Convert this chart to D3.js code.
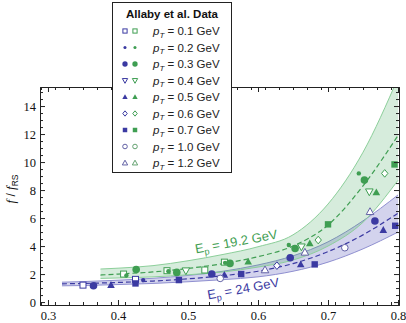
<!DOCTYPE html>
<html><head><meta charset="utf-8">
<script src="https://cdn.jsdelivr.net/npm/d3@7"></script>
<style>body{margin:0;background:#fff}svg{display:block}</style>
</head><body><svg id="c" width="406" height="323"></svg>
<script>
// ---- data ----
const xTicks = [0.3, 0.4, 0.5, 0.6, 0.7, 0.8];
const yTicks = [0, 2, 4, 6, 8, 10, 12, 14];
const legendLabels = ["0.1", "0.2", "0.3", "0.4", "0.5", "0.6", "0.7", "1.0", "1.2"];
const legendShapes = ["osq", "sdot", "ldot", "otri_d", "ftri", "odia", "fsq", "ocirc", "otri"];

// E_p = 19.2 GeV band (x, lower, central, upper)
const gX     = [0.375, 0.40, 0.45, 0.50, 0.55, 0.60, 0.65, 0.70, 0.75, 0.80];
const gLow   = [1.69, 1.72, 1.80, 1.95, 2.15, 2.50, 3.00, 4.00, 5.70, 8.70];
const gMid   = [1.93, 2.00, 2.15, 2.40, 2.75, 3.24, 4.00, 5.50, 8.30, 11.9];
const gHigh  = [2.36, 2.42, 2.60, 2.95, 3.40, 3.95, 4.80, 7.00, 10.7, 16.0];
// E_p = 24 GeV band
const bX     = [0.32, 0.35, 0.40, 0.45, 0.50, 0.55, 0.60, 0.65, 0.70, 0.75, 0.80];
const bLow   = [1.16, 1.18, 1.25, 1.33, 1.45, 1.60, 1.80, 2.20, 2.85, 3.80, 5.00];
const bMid   = [1.30, 1.33, 1.40, 1.50, 1.66, 1.88, 2.20, 2.75, 3.60, 4.80, 6.35];
const bHigh  = [1.42, 1.46, 1.56, 1.70, 1.90, 2.20, 2.65, 3.30, 4.30, 5.80, 7.65];

// Allaby et al. data points: [pT label, x, f/fRS]
const green = [
  ["0.1",0.408,2.00],["0.1",0.470,2.24],["0.1",0.524,2.29],["0.1",0.552,2.85],
  ["0.2",0.412,1.90],["0.2",0.472,2.20],["0.2",0.553,2.80],["0.2",0.644,4.07],["0.2",0.744,9.19],
  ["0.3",0.426,2.33],["0.3",0.484,2.12],["0.3",0.560,2.76],["0.3",0.653,3.83],["0.3",0.752,8.71],
  ["0.4",0.497,2.24],["0.4",0.662,3.95],["0.4",0.759,7.88],
  ["0.5",0.586,2.88],["0.5",0.674,4.19],["0.5",0.769,7.83],
  ["0.6",0.686,4.43],["0.6",0.781,9.19],
  ["0.7",0.700,5.55],["0.7",0.795,9.83]
];
const blue = [
  ["0.1",0.350,1.21],["0.1",0.425,1.62],
  ["0.2",0.436,1.57],
  ["0.3",0.365,1.17],["0.3",0.534,2.00],["0.3",0.646,3.17],["0.3",0.767,5.79],
  ["0.5",0.390,1.21],["0.5",0.552,1.93],["0.5",0.661,2.69],["0.5",0.779,5.14],
  ["0.6",0.627,2.60],
  ["0.7",0.425,1.33],["0.7",0.487,1.57],["0.7",0.576,2.00],["0.7",0.681,2.69],["0.7",0.796,5.45],
  ["1.0",0.546,1.69],["1.0",0.724,3.88],
  ["1.2",0.610,2.29],["1.2",0.667,3.55],["1.2",0.760,6.45]
];

// ---- drawing ----
const svg = d3.select("#c");
const L = 40, R = 399, T = 87, B = 305;
const x = d3.scaleLinear().domain([0.2886, 0.8014]).range([L, R]);
const y = d3.scaleLinear().domain([-0.21, 15.36]).range([B, T]);

const GC = "#3f9e52", GL = "#8ccf9a", GF = "rgba(70,170,95,0.22)";
const BC = "#3b3aa2", BL = "#8f8fd0", BF = "rgba(80,80,185,0.25)";

svg.append("defs").append("clipPath").attr("id","clip")
  .append("rect").attr("x",L).attr("y",T).attr("width",R-L).attr("height",B-T);
const plot = svg.append("g").attr("clip-path","url(#clip)");

function band(xs, lo, hi, fill, stroke){
  const area = d3.area().x((d,i)=>x(xs[i])).y0((d,i)=>y(lo[i])).y1((d,i)=>y(hi[i])).curve(d3.curveMonotoneX);
  plot.append("path").attr("d", area(xs)).attr("fill", fill);
  [lo, hi].forEach(arr=>{
    const ln = d3.line().x((d,i)=>x(xs[i])).y((d,i)=>y(arr[i])).curve(d3.curveMonotoneX);
    plot.append("path").attr("d", ln(xs)).attr("fill","none").attr("stroke",stroke).attr("stroke-width",1);
  });
}
function dashed(xs, mid, color){
  const ln = d3.line().x((d,i)=>x(xs[i])).y((d,i)=>y(mid[i])).curve(d3.curveMonotoneX);
  plot.append("path").attr("d", ln(xs)).attr("fill","none").attr("stroke",color)
    .attr("stroke-width",1.2).attr("stroke-dasharray","5,3");
}
band(bX, bLow, bHigh, BF, BL);
band(gX, gLow, gHigh, GF, GL);
dashed(bX, bMid, BC);
dashed(gX, gMid, GC);

function marker(g, shape, cx, cy, color, s){
  s = s || 1;
  const light = (shape==="ocirc"||shape==="otri");
  const col = light ? d3.interpolateRgb(color,"#aaaaaa")(0.35) : color;
  switch(shape){
    case "osq": g.append("rect").attr("x",cx-3*s).attr("y",cy-3*s).attr("width",6*s).attr("height",6*s).attr("fill","white").attr("stroke",col).attr("stroke-width",1); break;
    case "fsq": g.append("rect").attr("x",cx-3.2*s).attr("y",cy-3.2*s).attr("width",6.4*s).attr("height",6.4*s).attr("fill",col); break;
    case "sdot": g.append("circle").attr("cx",cx).attr("cy",cy).attr("r",2.2*s).attr("fill",col); break;
    case "ldot": g.append("circle").attr("cx",cx).attr("cy",cy).attr("r",3.8*s).attr("fill",col); break;
    case "ocirc": g.append("circle").attr("cx",cx).attr("cy",cy).attr("r",3.3*s).attr("fill","white").attr("stroke",col).attr("stroke-width",1); break;
    case "odia": g.append("path").attr("d",`M${cx},${cy-3.8*s}L${cx+3.2*s},${cy}L${cx},${cy+3.8*s}L${cx-3.2*s},${cy}Z`).attr("fill","white").attr("stroke",col).attr("stroke-width",1); break;
    case "ftri": g.append("path").attr("d",`M${cx},${cy-4*s}L${cx+3.8*s},${cy+2.8*s}L${cx-3.8*s},${cy+2.8*s}Z`).attr("fill",col); break;
    case "otri": g.append("path").attr("d",`M${cx},${cy-4*s}L${cx+3.8*s},${cy+2.8*s}L${cx-3.8*s},${cy+2.8*s}Z`).attr("fill","white").attr("stroke",col).attr("stroke-width",1); break;
    case "otri_d": g.append("path").attr("d",`M${cx},${cy+4*s}L${cx+3.8*s},${cy-2.8*s}L${cx-3.8*s},${cy-2.8*s}Z`).attr("fill","white").attr("stroke",col).attr("stroke-width",1); break;
  }
}
const shapeOf = lab => legendShapes[legendLabels.indexOf(lab)];
const pts = svg.append("g").attr("clip-path","url(#clip)");
blue.forEach(d=>marker(pts, shapeOf(d[0]), x(d[1]), y(d[2]), BC));
green.forEach(d=>marker(pts, shapeOf(d[0]), x(d[1]), y(d[2]), GC));

// ---- axes (frame with inward ticks) ----
const minorX = d3.range(0.29, 0.8014, 0.02).map(v=>+v.toFixed(3)).filter(v=>!xTicks.some(t=>Math.abs(t-v)<1e-6));
const minorY = d3.range(0, 15.3, 0.5).filter(v=>!yTicks.includes(v));
const axCol = "#222";
function axisG(gen, tx, ty){
  const g = svg.append("g").attr("transform",`translate(${tx},${ty})`).call(gen);
  g.select(".domain").attr("stroke",axCol);
  g.selectAll(".tick line").attr("stroke",axCol);
  g.selectAll("text").attr("font-family","'Liberation Serif', serif").attr("font-size",12.5).attr("fill","#111");
  return g;
}
axisG(d3.axisBottom(x).tickValues(xTicks).tickFormat(d3.format(".1f")).tickSize(-5).tickSizeOuter(0).tickPadding(6), 0, B);
axisG(d3.axisBottom(x).tickValues(minorX).tickFormat("").tickSize(-3).tickSizeOuter(0), 0, B);
axisG(d3.axisTop(x).tickValues(xTicks).tickFormat("").tickSize(-5).tickSizeOuter(0), 0, T);
axisG(d3.axisTop(x).tickValues(minorX).tickFormat("").tickSize(-3).tickSizeOuter(0), 0, T);
axisG(d3.axisLeft(y).tickValues(yTicks).tickFormat(d3.format("d")).tickSize(-5).tickSizeOuter(0).tickPadding(4), L, 0);
axisG(d3.axisLeft(y).tickValues(minorY).tickFormat("").tickSize(-3).tickSizeOuter(0), L, 0);
axisG(d3.axisRight(y).tickValues(yTicks).tickFormat("").tickSize(-5).tickSizeOuter(0), R, 0);
axisG(d3.axisRight(y).tickValues(minorY).tickFormat("").tickSize(-3).tickSizeOuter(0), R, 0);

// y label
const yl = svg.append("text").attr("transform",`translate(15,189) rotate(-90)`)
  .attr("text-anchor","middle").attr("font-family","'Liberation Sans', sans-serif").attr("font-size",12).attr("fill","#111");
yl.append("tspan").attr("font-style","italic").attr("font-family","'Liberation Serif', serif").attr("font-size",13).text("f");
yl.append("tspan").text(" / ");
yl.append("tspan").attr("font-style","italic").attr("font-family","'Liberation Serif', serif").attr("font-size",13).text("f");
yl.append("tspan").attr("font-size",8.5).attr("dy",3).text("RS");

// curve labels
function eLabel(txt, cx, cy, ang, color){
  const t = svg.append("text").attr("transform",`translate(${cx},${cy}) rotate(${ang})`).attr("text-anchor","middle")
    .attr("font-family","'Liberation Sans', sans-serif").attr("font-size",13).attr("fill",color);
  t.append("tspan").text("E");
  t.append("tspan").attr("font-size",9).attr("dy",3).text("p");
  t.append("tspan").attr("dy",-3).text(" = " + txt);
}
eLabel("19.2 GeV", 237, 246, -10.5, GC);
eLabel("24 GeV", 244, 293, -10.3, BC);

// ---- legend ----
const lg = svg.append("g");
lg.append("rect").attr("x",112.5).attr("y",2.5).attr("width",119).attr("height",170)
  .attr("fill","white").attr("stroke","#222").attr("stroke-width",1);
lg.append("text").attr("x",172).attr("y",18).attr("text-anchor","middle")
  .attr("font-family","'Liberation Sans', sans-serif").attr("font-weight","bold").attr("font-size",11.5).attr("fill","#111")
  .text("Allaby et al. Data");
legendLabels.forEach((lab,i)=>{
  const cy = 31 + i*16.5;
  marker(lg, legendShapes[i], 125, cy, BC, 0.7);
  marker(lg, legendShapes[i], 135, cy, GC, 0.7);
  const t = lg.append("text").attr("x",153).attr("y",cy+4)
    .attr("font-family","'Liberation Sans', sans-serif").attr("font-size",11.5).attr("fill","#222");
  t.append("tspan").attr("font-style","italic").text("p");
  t.append("tspan").attr("font-style","italic").attr("font-size",8).attr("dy",2.5).text("T");
  t.append("tspan").attr("dy",-2.5).text(" = " + lab + " GeV");
});
</script></body></html>
